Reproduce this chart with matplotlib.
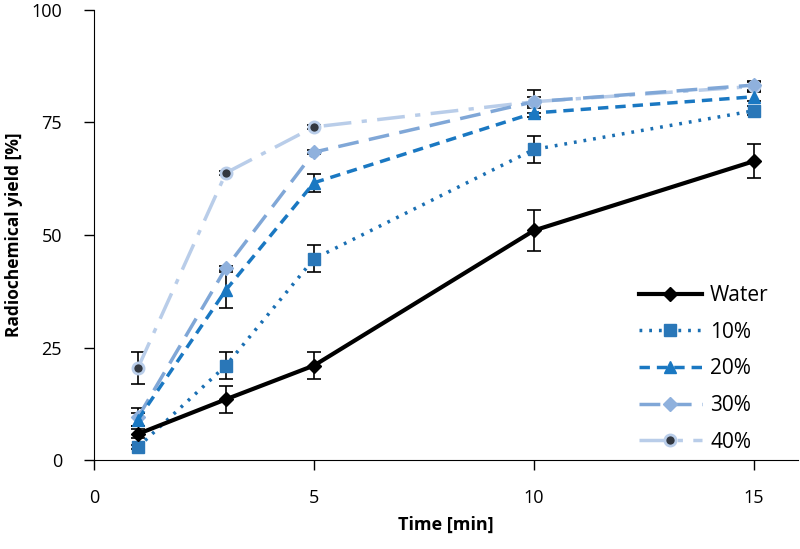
import numpy as np
import matplotlib
matplotlib.use('Agg')
import matplotlib.pyplot as plt

plt.rcParams['font.family'] = ['Open Sans', 'DejaVu Sans']

time = [1, 3, 5, 10, 15]
water = [5.8, 13.5, 21.0, 51.0, 66.4]
water_err = [1.0, 3.0, 3.0, 4.5, 3.8]
p10 = [2.9, 21.0, 44.7, 69.0, 77.6]
p10_err = [0.5, 3.0, 3.0, 3.0, 1.0]
p20 = [9.0, 37.8, 61.6, 77.1, 80.7]
p20_err = [1.5, 4.0, 2.0, 1.0, 1.0]
p30 = [9.5, 42.7, 68.4, 79.6, 83.3]
p30_err = [2.0, 0.5, 0.5, 1.0, 1.0]
p40 = [20.5, 63.8, 74.0, 79.6, 83.0]
p40_err = [3.5, 0.5, 0.5, 2.5, 1.0]

fig = plt.figure(figsize=(8, 5.49), dpi=100)
ax = fig.add_axes([0.1175, 0.162, 0.88, 0.82])

ekw = dict(fmt='none', ecolor='black', elinewidth=1.2, capsize=5, capthick=1.2)
for vals, err in [(p40, p40_err), (p30, p30_err), (p20, p20_err), (p10, p10_err), (water, water_err)]:
    ax.errorbar(time, vals, yerr=err, **ekw)

ax.plot(time, p40, color='#b9cde9', lw=2.5, ls=(0, (8, 3, 1.5, 3)),
        marker='o', ms=8, mfc='#333840', mec='#b9cde9', mew=2, label='40%')
ax.plot(time, p30, color='#80a7d7', lw=2.5, ls=(0, (6, 3)),
        marker='D', ms=7, mfc='#8fb1dd', mec='#8fb1dd', label='30%')
ax.plot(time, p20, color='#1a78c2', lw=2.5, ls=(0, (3, 2)),
        marker='^', ms=9, mfc='#1a78c2', mec='#1a78c2', label='20%')
ax.plot(time, p10, color='#1a6fb3', lw=2.5, ls=(0, (0.8, 2)),
        marker='s', ms=9, mfc='#2a77b8', mec='#2a77b8', label='10%')
ax.plot(time, water, color='black', lw=3,
        marker='D', ms=7, mfc='black', mec='black', label='Water')

ax.set_xlim(0, 16)
ax.set_ylim(0, 100)
ax.set_xticks([0, 5, 10, 15])
ax.set_yticks([0, 25, 50, 75, 100])
ax.spines['top'].set_visible(False)
ax.spines['right'].set_visible(False)
ax.tick_params(labelsize=13, direction='out', length=7, width=1)
ax.tick_params(axis='x', pad=14)
ax.tick_params(axis='y', pad=16)
ax.set_xlabel('Time [min]', fontsize=13, fontweight='bold', labelpad=6)
ax.set_ylabel('Radiochemical yield [%]', fontsize=12.5, fontweight='bold', labelpad=6)

h, l = ax.get_legend_handles_labels()
ax.legend(h[::-1], l[::-1], loc='lower right', bbox_to_anchor=(0.985, -0.025),
          frameon=False, fontsize=15, handlelength=3, handletextpad=0.4, labelspacing=0.75)

fig.savefig('out.png', dpi=100)
